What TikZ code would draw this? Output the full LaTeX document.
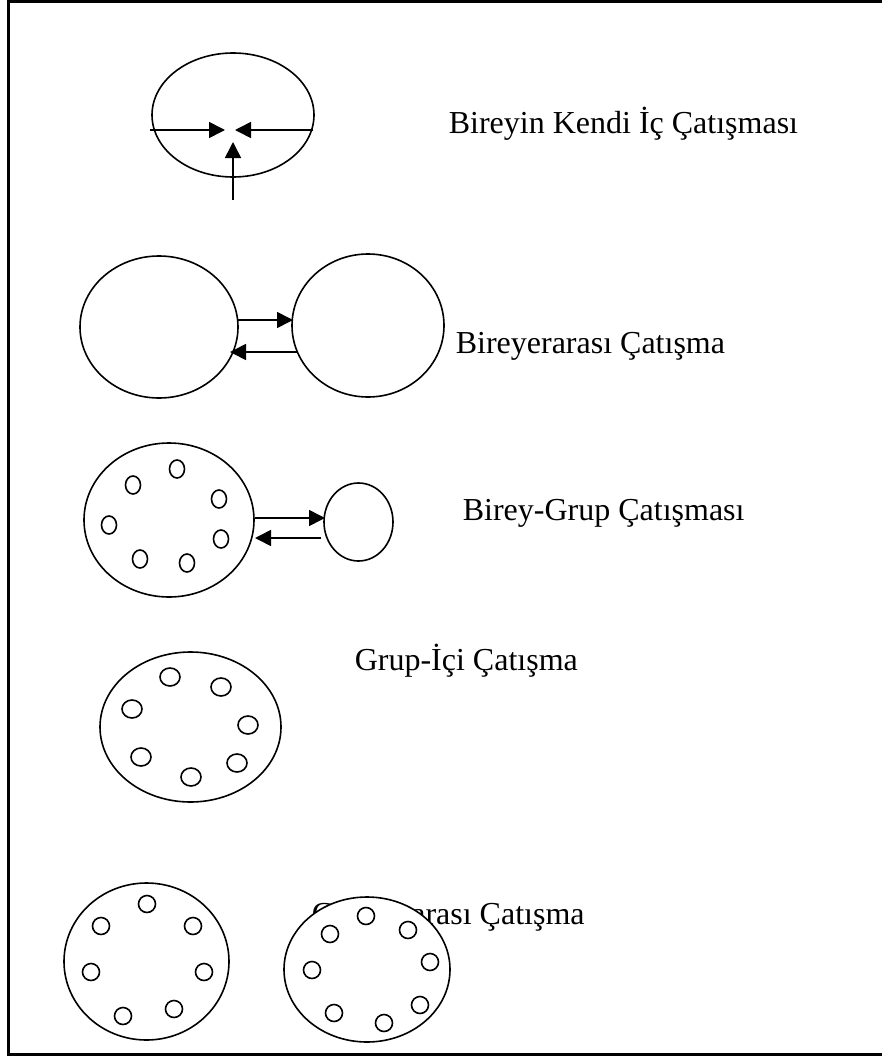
\documentclass[tikz,border=0pt]{standalone}
\usepackage{fontspec}
\setmainfont{Liberation Serif}
\usetikzlibrary{shapes.geometric,arrows.meta}
\begin{document}
\begin{tikzpicture}[x=1pt,y=-1pt,
  line width=1.6pt,
  oval/.style={draw,ellipse,inner sep=0pt,outer sep=0pt},
  big/.style={oval,fill=white},
  dot/.style={oval,minimum width=#1},
  arr/.style={-{Triangle[length=16pt,width=16pt]}},
  lbl/.style={anchor=base west,inner sep=0pt,font=\fontsize{32}{38}\selectfont}]
\useasboundingbox (0,0) rectangle (882,1057);

% frame
\draw[line width=2.6pt] (882,1.3) -- (8.7,1.3) -- (8.7,1054.3) -- (882,1054.3);

% 1: inner conflict
\node[big,minimum width=162pt,minimum height=124pt] (e1) at (233,115) {};
\coordinate (a1l) at (150,130);
\coordinate (a1r) at (313,130);
\coordinate (a1b) at (233,200);
\coordinate (t1l) at (225,130);
\coordinate (t1r) at (235,130);
\coordinate (t1b) at (233,142);
\draw[arr] (a1l) -- (t1l);
\draw[arr] (a1r) -- (t1r);
\draw[arr] (a1b) -- (t1b);
\node[lbl] (l1) at (448,133) {Bireyin Kendi İç Çatışması};

% 2: interpersonal conflict
\node[big,minimum width=158pt,minimum height=142pt] (e2a) at (159,327) {};
\node[big,minimum width=152pt,minimum height=143pt] (e2b) at (368,325.5) {};
\coordinate (a2s) at (238,320);
\coordinate (a2t) at (293,320);
\coordinate (b2s) at (298,352);
\coordinate (b2t) at (230,352);
\draw[arr] (a2s) -- (a2t);
\draw[arr] (b2s) -- (b2t);
\node[lbl] (l2) at (455,353) {Bireyerarası Çatışma};

% 3: individual-group conflict
\node[big,minimum width=170pt,minimum height=154pt] (e3a) at (169,520) {};
\node[big,minimum width=69pt,minimum height=78pt] (e3b) at (358.5,522) {};
\foreach \p [count=\i] in {(177,469),(133,485),(219,499),(109,525),(221,539),(140,559),(187,563)}
  \node[dot=15pt,minimum height=18pt] (c3-\i) at \p {};
\coordinate (a3s) at (255,518);
\coordinate (a3t) at (325,518);
\coordinate (b3s) at (321,538);
\coordinate (b3t) at (255,538);
\draw[arr] (a3s) -- (a3t);
\draw[arr] (b3s) -- (b3t);
\node[lbl] (l3) at (462,520) {Birey-Grup Çatışması};

% 4: intragroup conflict
\node[big,minimum width=181pt,minimum height=150pt] (e4) at (190.5,727) {};
\foreach \p [count=\i] in {(170,677),(221,687),(132,709),(248,725),(141,757),(237,763),(191,777)}
  \node[dot=20pt,minimum height=18pt] (c4-\i) at \p {};
\node[lbl] (l4) at (354,670) {Grup-İçi Çatışma};

% 5: intergroup conflict (label sits behind the right group)
\node[lbl] (l5) at (311,924) {Gruplararası Çatışma};
\node[big,minimum width=165pt,minimum height=157pt] (e5a) at (146.5,961.5) {};
\node[big,minimum width=166pt,minimum height=145pt] (e5b) at (367,969.5) {};
\foreach \p [count=\i] in {(147,904),(101,926),(193,926),(91,972),(204,972),(123,1016),(174,1009)}
  \node[dot=17pt,minimum height=17pt] (c5a-\i) at \p {};
\foreach \p [count=\i] in {(366,916),(330,934),(408,930),(312,970),(430,962),(334,1013),(420,1005),(384,1023)}
  \node[dot=17pt,minimum height=17pt] (c5b-\i) at \p {};
\end{tikzpicture}
\end{document}
